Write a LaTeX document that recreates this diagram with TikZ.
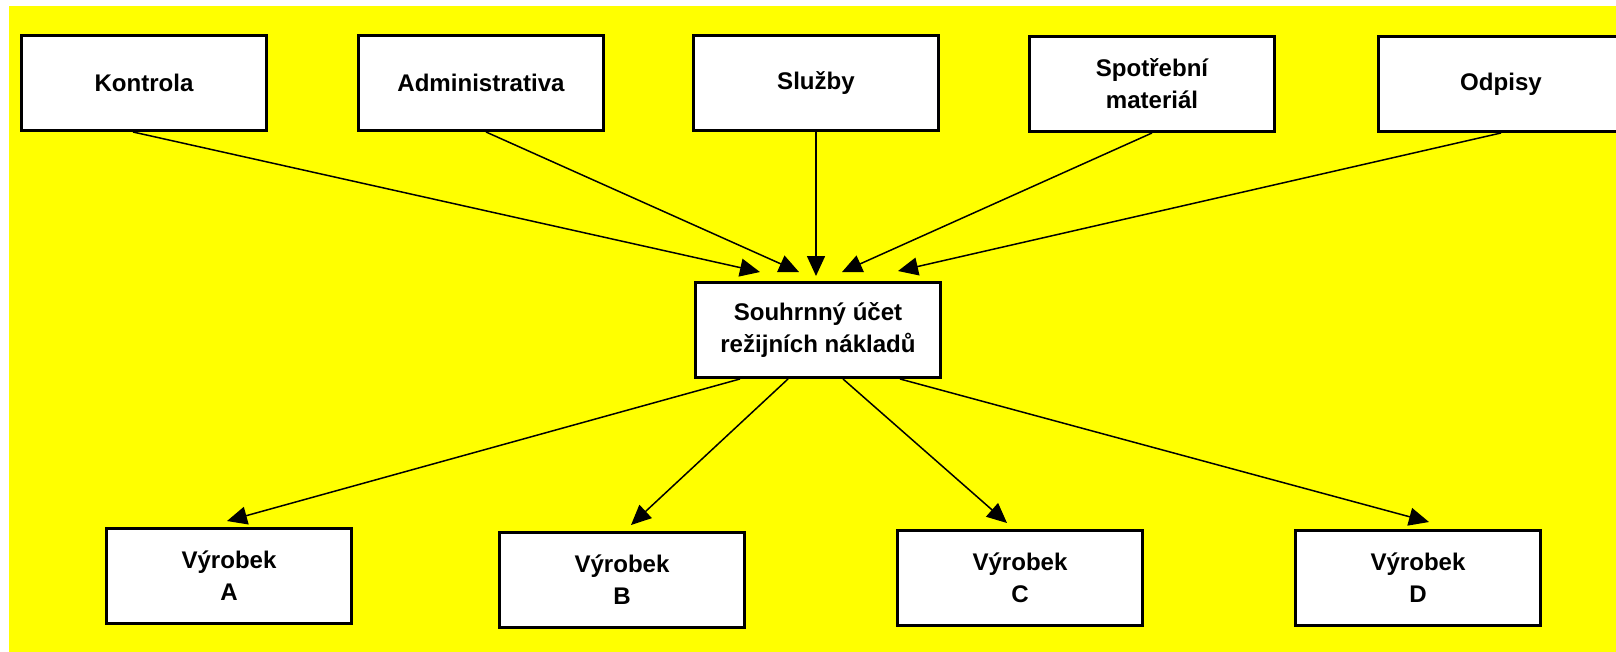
\documentclass[tikz,border=0pt]{standalone}
\usepackage{fontspec}
\setmainfont{Liberation Sans}
\usetikzlibrary{arrows.meta,calc}
\definecolor{bgyellow}{RGB}{255,255,0}

\begin{document}
\begin{tikzpicture}[x=0.02cm, y=-0.02cm,
  every node/.style={font=\bfseries\fontsize{13.7}{18.2}\selectfont},
  box/.style={draw,fill=white,line width=1.7pt,minimum width=4.9cm,minimum height=1.9cm,align=center,inner sep=0pt},
  arr/.style={-{Triangle[length=0.4cm,width=0.36cm]},line width=0.85pt}]
\useasboundingbox (0,0) rectangle (1616,652);
\fill[bgyellow] (9,6) rectangle (1616,652);
% overhead sources
\node[box] (kontrola) at (144,83) {Kontrola};
\node[box] (admin) at (481,83) {Administrativa};
\node[box] (sluzby) at (816,83) {Služby};
\node[box] (spotreba) at (1152,84) {Spotřební\\materiál};
\node[box] (odpisy) at (1501,84) {Odpisy};
% pool
\node[box] (souhrn) at (818,330) {Souhrnný účet\\režijních nákladů};
% products
\node[box] (vyrA) at (229,576) {Výrobek\\A};
\node[box] (vyrB) at (622,580) {Výrobek\\B};
\node[box] (vyrC) at (1020,578) {Výrobek\\C};
\node[box] (vyrD) at (1418,578) {Výrobek\\D};
\draw[arr] ($(kontrola.south)+(-11,0)$) -- ($(souhrn.north)+(-58,-9)$);
\draw[arr] ($(admin.south)+(5,0)$) -- ($(souhrn.north)+(-19,-9)$);
\draw[arr] (sluzby.south) -- ($(souhrn.north)+(-2,-5)$);
\draw[arr] (spotreba.south) -- ($(souhrn.north)+(24,-9)$);
\draw[arr] (odpisy.south) -- ($(souhrn.north)+(80,-10)$);
\draw[arr] ($(souhrn.south)+(-78,0)$) -- ($(vyrA.north)+(-2,-6)$);
\draw[arr] ($(souhrn.south)+(-30,0)$) -- ($(vyrB.north)+(9,-6)$);
\draw[arr] ($(souhrn.south)+(25,0)$) -- ($(vyrC.north)+(-13,-6)$);
\draw[arr] ($(souhrn.south)+(82,0)$) -- ($(vyrD.north)+(11,-7)$);
\end{tikzpicture}
\end{document}
